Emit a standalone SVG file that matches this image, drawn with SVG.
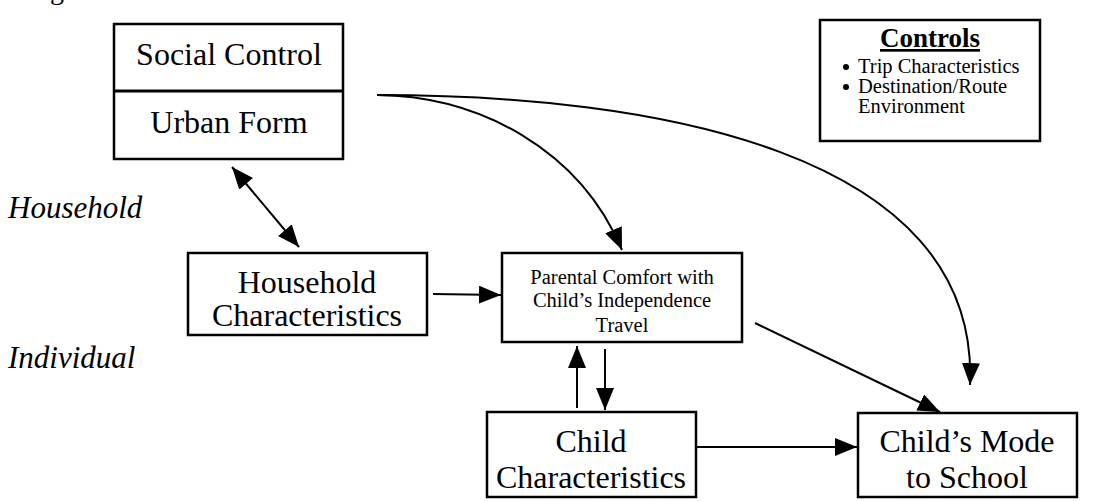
<svg xmlns="http://www.w3.org/2000/svg" width="1100" height="501" viewBox="0 0 1100 501">
<style>
text{font-family:'Liberation Serif','DejaVu Serif',serif;fill:#000}
.box{fill:#fff;stroke:#000;stroke-width:2.5}
.t{text-anchor:middle}
.big{font-size:32px}
.sm{font-size:20.5px}
.bl{font-size:20.5px;text-anchor:start}
.it{font-style:italic;font-size:31px}
.ln{fill:none;stroke:#000;stroke-width:2}
</style>
<defs>
<marker id="ahs" markerWidth="22" markerHeight="18" refX="22" refY="9" orient="auto-start-reverse" markerUnits="userSpaceOnUse" viewBox="0 0 22 18">
<path d="M0,0 L22,9 L0,18 z" fill="#000"/>
</marker>
</defs>
<rect width="1100" height="501" fill="#fff"/>
<text x="50" y="-1" font-size="28">g</text>
<text class="it" x="8" y="218">Household</text>
<text class="it" x="8" y="368">Individual</text>
<g id="social-urban">
<rect class="box" x="114" y="24" width="229" height="135"/>
<line x1="114" y1="91" x2="343" y2="91" stroke="#000" stroke-width="3"/>
<text class="t big" x="229" y="65">Social Control</text>
<text class="t big" x="229" y="133">Urban Form</text>
</g>
<g id="controls">
<rect class="box" x="820" y="20" width="220" height="121"/>
<text class="t" x="930" y="47" font-size="27" font-weight="bold" text-decoration="underline">Controls</text>
<circle cx="846" cy="67" r="3"/>
<circle cx="846" cy="87" r="3"/>
<text class="bl" x="858" y="73">Trip Characteristics</text>
<text class="bl" x="858" y="93">Destination/Route</text>
<text class="bl" x="858" y="113">Environment</text>
</g>
<g id="household">
<rect class="box" x="188" y="253" width="239" height="82"/>
<text class="t big" x="307" y="293">Household</text>
<text class="t big" x="307" y="326">Characteristics</text>
</g>
<g id="parental">
<rect class="box" x="502" y="253" width="240" height="89"/>
<text class="t sm" x="622" y="284">Parental Comfort with</text>
<text class="t sm" x="622" y="307">Child’s Independence</text>
<text class="t sm" x="622" y="332">Travel</text>
</g>
<g id="child">
<rect class="box" x="487" y="412" width="209" height="85"/>
<text class="t big" x="591" y="452">Child</text>
<text class="t big" x="591" y="488">Characteristics</text>
</g>
<g id="mode">
<rect class="box" x="858" y="413" width="219" height="84"/>
<text class="t big" x="967" y="452">Child’s Mode</text>
<text class="t big" x="967" y="488">to School</text>
</g>
<g id="connectors">
<line class="ln" x1="232" y1="167" x2="299" y2="247" marker-start="url(#ahs)" marker-end="url(#ahs)"/>
<line class="ln" x1="433" y1="294" x2="501" y2="295" marker-end="url(#ahs)"/>
<path class="ln" d="M377,95 C480,96 580,150 622,250" marker-end="url(#ahs)"/>
<path class="ln" d="M377,95 C650,95 980,150 970,385" marker-end="url(#ahs)"/>
<line class="ln" x1="755" y1="323" x2="940" y2="412" marker-end="url(#ahs)"/>
<line class="ln" x1="577" y1="408" x2="577" y2="346" marker-end="url(#ahs)"/>
<line class="ln" x1="605" y1="349" x2="605" y2="410" marker-end="url(#ahs)"/>
<line class="ln" x1="696" y1="447" x2="857" y2="447" marker-end="url(#ahs)"/>
</g>
</svg>
